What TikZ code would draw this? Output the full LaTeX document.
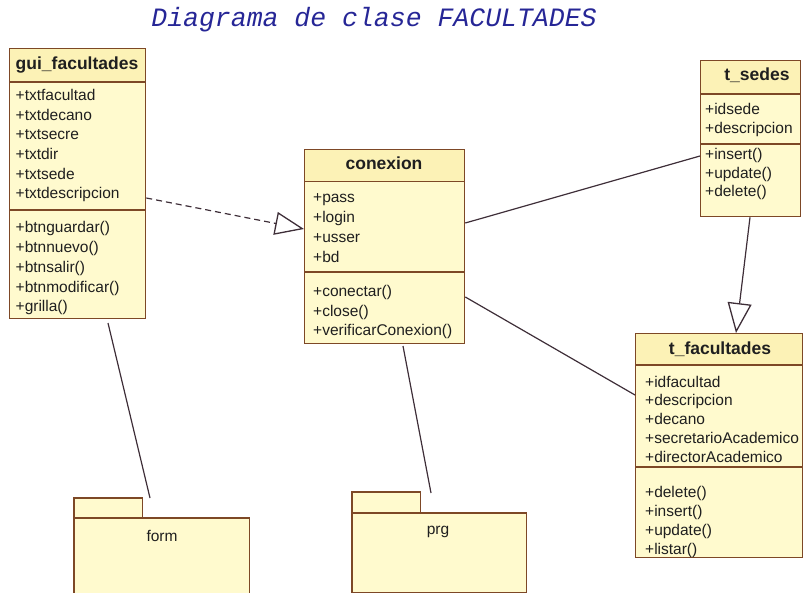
\documentclass[tikz,border=0pt]{standalone}
\usepackage{fontspec}
\setmainfont{Liberation Sans}
\newfontfamily\titlefont{Liberation Mono}
\usetikzlibrary{arrows.meta}
\definecolor{umlborder}{RGB}{125,72,38}
\definecolor{umlfill}{RGB}{255,250,206}
\definecolor{umlhead}{RGB}{252,242,182}
\definecolor{umlline}{RGB}{62,46,56}
\definecolor{titleblue}{RGB}{38,38,150}
\tikzset{
  classbox/.style={draw=umlborder, line width=1.3pt, rectangle, inner sep=0pt, anchor=north west},
  pkgbox/.style={fill=umlfill, rectangle, inner sep=0pt, anchor=north west},
  divider/.style={draw=umlborder, line width=1.2pt},
  member/.style={anchor=base west, inner sep=0pt, text=black!88, font=\fontsize{15.5}{19}\selectfont},
  classname/.style={anchor=base, inner sep=0pt, text=black!88, font=\bfseries\fontsize{17.5}{21}\selectfont},
  pkgname/.style={anchor=center, inner sep=0pt, text=black!88, font=\fontsize{15.5}{19}\selectfont},
  assoc/.style={draw=umlline, line width=1.2pt},
  realize/.style={draw=umlline, line width=1.2pt, dash pattern=on 6pt off 4pt,
    -{Triangle[open, length=29pt, width=23pt, line width=1.3pt]}},
  generalize/.style={draw=umlline, line width=1.2pt,
    -{Triangle[open, length=30pt, width=24pt, line width=1.3pt]}},
}
\begin{document}
\begin{tikzpicture}[x=1pt,y=-1pt]
\useasboundingbox (0,0) rectangle (805,593);

% title
\node[anchor=base, inner sep=0pt, text=titleblue, font=\titlefont\itshape\fontsize{26.5}{30}\selectfont] (title) at (374,26.5) {Diagrama de clase FACULTADES};

% ---------- gui_facultades ----------
\fill[umlfill] (9,48) rectangle (145,318);
\fill[umlhead] (9,48) rectangle (145,82);
\node[classbox, minimum width=136pt, minimum height=270pt] (gui) at (9,48) {};
\draw[divider] (gui.west |- 0,82) -- (gui.east |- 0,82);
\draw[divider] (gui.west |- 0,210) -- (gui.east |- 0,210);
\node[classname] (gui-name) at (77,70) {gui\_facultades};
\foreach \t [count=\i from 0] in {+txtfacultad,+txtdecano,+txtsecre,+txtdir,+txtsede,+txtdescripcion}
  \node[member] (gui-a\i) at (15.5,{100.5+19.7*\i}) {\t};
\foreach \t [count=\i from 0] in {+btnguardar(),+btnnuevo(),+btnsalir(),+btnmodificar(),+grilla()}
  \node[member] (gui-m\i) at (15.5,{233+19.75*\i}) {\t};

% ---------- conexion ----------
\fill[umlfill] (304,149) rectangle (464,343);
\fill[umlhead] (304,149) rectangle (464,181.5);
\node[classbox, minimum width=160pt, minimum height=194pt] (con) at (304,149) {};
\draw[divider] (con.west |- 0,181.5) -- (con.east |- 0,181.5);
\draw[divider] (con.west |- 0,272) -- (con.east |- 0,272);
\node[classname] (con-name) at (384,170) {conexion};
\foreach \t [count=\i from 0] in {+pass,+login,+usser,+bd}
  \node[member] (con-a\i) at (313,{203+19.7*\i}) {\t};
\foreach \t [count=\i from 0] in {+conectar(),+close(),+verificarConexion()}
  \node[member] (con-m\i) at (313,{297+19.1*\i}) {\t};

% ---------- t_sedes ----------
\fill[umlfill] (700,60) rectangle (800,216);
\fill[umlhead] (700,60) rectangle (800,94);
\node[classbox, minimum width=100pt, minimum height=156pt] (sed) at (700,60) {};
\draw[divider] (sed.west |- 0,94) -- (sed.east |- 0,94);
\draw[divider] (sed.west |- 0,144) -- (sed.east |- 0,144);
\node[classname] (sed-name) at (757,81) {t\_sedes};
\foreach \t [count=\i from 0] in {+idsede,+descripcion}
  \node[member] (sed-a\i) at (705,{115+19*\i}) {\t};
\foreach \t [count=\i from 0] in {+insert(),+update(),+delete()}
  \node[member] (sed-m\i) at (705,{160+18.5*\i}) {\t};

% ---------- t_facultades ----------
\fill[umlfill] (635,333) rectangle (802,557);
\fill[umlhead] (635,333) rectangle (802,365);
\node[classbox, minimum width=167pt, minimum height=224pt] (fac) at (635,333) {};
\draw[divider] (fac.west |- 0,365) -- (fac.east |- 0,365);
\draw[divider] (fac.west |- 0,467) -- (fac.east |- 0,467);
\node[classname] (fac-name) at (720,354) {t\_facultades};
\foreach \t [count=\i from 0] in {+idfacultad,+descripcion,+decano,+secretarioAcademico,+directorAcademico}
  \node[member] (fac-a\i) at (645,{387+18.75*\i}) {\t};
\foreach \t [count=\i from 0] in {+delete(),+insert(),+update(),+listar()}
  \node[member] (fac-m\i) at (645,{497+19.33*\i}) {\t};

% ---------- package form ----------
\node[pkgbox, minimum width=68pt, minimum height=20pt] (formtab) at (74,498) {};
\draw[umlborder, line width=1.3pt] (formtab.south west) -- (formtab.north west) -- (formtab.north east) -- (formtab.south east);
\node[pkgbox, minimum width=175pt, minimum height=76pt] (form) at (74,518) {};
\draw[umlborder, line width=1.3pt] (form.south west) -- (form.north west) -- (form.north east) -- (form.south east);
\node[pkgname] (form-name) at (162,536) {form};

% ---------- package prg ----------
\node[pkgbox, minimum width=68pt, minimum height=21pt] (prgtab) at (352,492) {};
\draw[umlborder, line width=1.3pt] (prgtab.south west) -- (prgtab.north west) -- (prgtab.north east) -- (prgtab.south east);
\node[pkgbox, minimum width=174pt, minimum height=79pt] (prg) at (352,513) {};
\draw[umlborder, line width=1.3pt] (prg.north west) rectangle (prg.south east);
\node[pkgname] (prg-name) at (438,532) {prg};

% ---------- connectors ----------
\coordinate (guistart) at (108,323);
\coordinate (constart) at (403,346);
\coordinate (formend) at (150,498);
\coordinate (prgend) at (431,493);
\draw[realize] (gui.east |- 0,198) -- (con.west |- 0,229);
\draw[assoc] (con.east |- 0,223) -- (sed.west |- 0,156);
\draw[assoc] (con.east |- 0,297) -- (fac.west |- 0,395);
\draw[generalize] (sed.south -| 750,0) -- (fac.north -| 736,0);
\draw[assoc] (guistart) -- (formend);
\draw[assoc] (constart) -- (prgend);
\end{tikzpicture}
\end{document}
